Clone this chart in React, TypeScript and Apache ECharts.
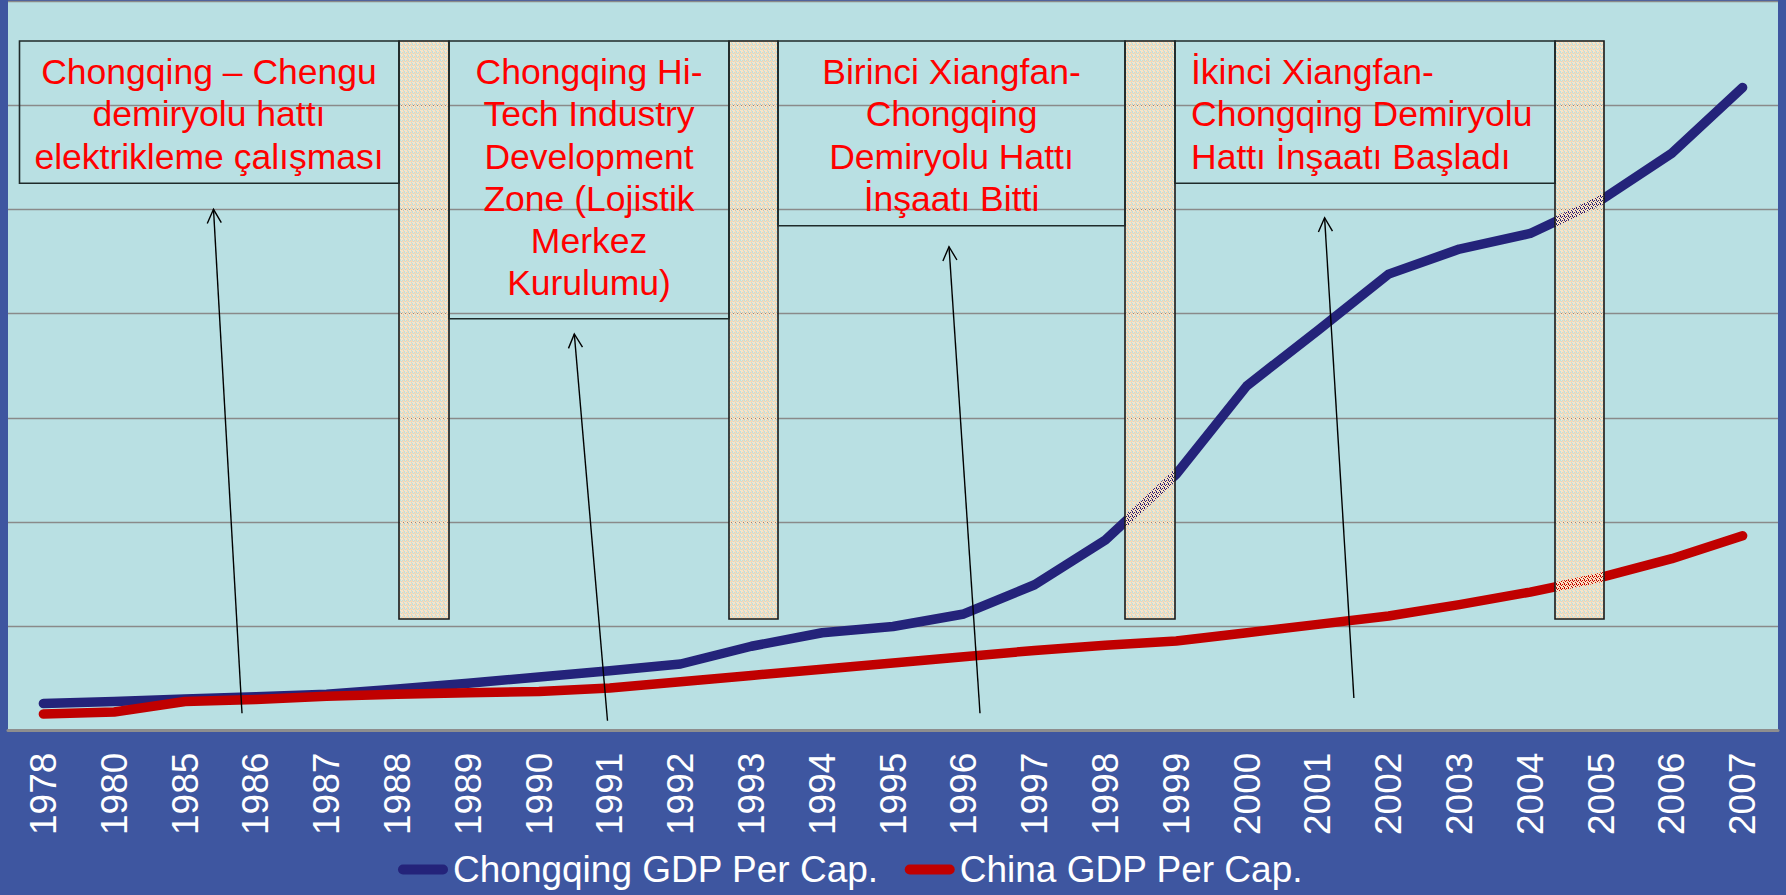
import React, { useEffect, useRef } from 'react';
import * as echarts from 'echarts';

// ---------- data ----------
const years = [
  '1978', '1980', '1985', '1986', '1987', '1988', '1989', '1990', '1991', '1992',
  '1993', '1994', '1995', '1996', '1997', '1998', '1999', '2000', '2001', '2002',
  '2003', '2004', '2005', '2006', '2007',
];
const chongqingGdp = [
  260, 280, 305, 325, 350, 400, 455, 515, 575, 640,
  810, 940, 1000, 1120, 1400, 1830, 2460, 3310, 3840, 4380,
  4620, 4770, 5090, 5540, 6170,
];
const chinaGdp = [
  160, 180, 280, 300, 330, 350, 365, 375, 410, 470,
  530, 590, 650, 710, 770, 820, 860, 940, 1020, 1100,
  1210, 1330, 1470, 1650, 1870,
];
const seriesNames = ['Chongqing GDP Per Cap.', 'China GDP Per Cap.'];
const noteTexts = [
  'Chongqing – Chengu\ndemiryolu hattı\nelektrikleme çalışması',
  'Chongqing Hi-\nTech Industry\nDevelopment\nZone (Lojistik\nMerkez\nKurulumu)',
  'Birinci Xiangfan-\nChongqing\nDemiryolu Hattı\nİnşaatı Bitti',
  'İkinci Xiangfan-\nChongqing Demiryolu\nHattı İnşaatı Başladı',
];

// ---------- layout / style ----------
const FONT = '"Liberation Sans", Arial, "DejaVu Sans", sans-serif';
const NAVY = '#24237A';
const RED = '#C00000';
const BG = '#3E56A0';
const PLOT_BG = '#B9E0E3';

// annotation boxes: [x, y, w, h, align, textX]
const boxLayout: [number, number, number, number, string, number][] = [
  [19.5, 41, 379.5, 142.3, 'center', 209],
  [449, 41, 280, 277.7, 'center', 589],
  [778, 41, 347, 184.7, 'center', 951.5],
  [1175, 41, 380, 142.3, 'left', 1191],
];
// shaded columns: [x, width]
const columnLayout: [number, number][] = [
  [399, 50],
  [729, 49],
  [1125, 50],
  [1555, 49],
];
const COL_TOP = 41;
const COL_BOTTOM = 619;
// arrows: [tailX, tailY, tipX, tipY]
const arrowLayout: [number, number, number, number][] = [
  [242, 713.3, 213.5, 209.3],
  [607.5, 720.7, 574.3, 334],
  [980, 713.3, 949, 246.7],
  [1353.9, 698, 1324.6, 217.7],
];

function makePattern(): any {
  const n = 4;
  const c = document.createElement('canvas');
  c.width = n;
  c.height = n;
  const ctx = c.getContext('2d')!;
  ctx.clearRect(0, 0, n, n);
  // transparent holes so the lines and grid show through the shading
  const holes = ['0,0', '2,0', '1,1', '3,2', '0,3'];
  for (let y = 0; y < n; y++) {
    for (let x = 0; x < n; x++) {
      if (holes.includes(`${x},${y}`)) continue;
      ctx.fillStyle = (x === 3 || y === 1) ? 'rgb(252,216,178)' : 'rgb(250,228,200)';
      ctx.fillRect(x, y, 1, 1);
    }
  }
  return { image: c, repeat: 'repeat', imageWidth: n, imageHeight: n };
}

function arrowGraphics(a: [number, number, number, number]) {
  const [x1, y1, x2, y2] = a;
  const dx = x1 - x2;
  const dy = y1 - y2;
  const len = Math.sqrt(dx * dx + dy * dy);
  const ux = dx / len;
  const uy = dy / len;
  const ang = (27 * Math.PI) / 180;
  const L = 15.5;
  const rot = (s: number) => [
    x2 + L * (ux * Math.cos(s * ang) - uy * Math.sin(s * ang)),
    y2 + L * (ux * Math.sin(s * ang) + uy * Math.cos(s * ang)),
  ];
  return [
    {
      type: 'line',
      z: 20,
      shape: { x1, y1, x2, y2 },
      style: { stroke: '#000', lineWidth: 1.4 },
    },
    {
      type: 'polyline',
      z: 20,
      shape: { points: [rot(1), [x2, y2], rot(-1)] },
      style: { stroke: '#000', lineWidth: 1.4, fill: 'none' },
    },
  ];
}

export default function App() {
  const ref = useRef<HTMLDivElement>(null);

  useEffect(() => {
    document.body.style.margin = '0';
    if (!ref.current) return;
    const chart = echarts.init(ref.current, undefined, { renderer: 'svg' });
    const pattern = makePattern();

    const graphics: any[] = [];
    columnLayout.forEach(([x, w]) => {
      graphics.push({
        type: 'rect',
        z: 10,
        shape: { x, y: COL_TOP, width: w, height: COL_BOTTOM - COL_TOP },
        style: { fill: pattern, stroke: '#1a1a1a', lineWidth: 1.6 },
      });
    });
    boxLayout.forEach(([x, y, w, h, align, tx], i) => {
      graphics.push({
        type: 'rect',
        z: 11,
        shape: { x, y, width: w, height: h },
        style: { fill: 'none', stroke: '#1f2a2a', lineWidth: 1.6 },
      });
      graphics.push({
        type: 'text',
        z: 12,
        x: tx,
        y: 50.8,
        style: {
          text: noteTexts[i],
          fill: '#FF0000',
          fontSize: 35.5,
          fontFamily: FONT,
          lineHeight: 42.3,
          textAlign: align,
          textVerticalAlign: 'top',
        },
      });
    });
    arrowLayout.forEach((a) => graphics.push(...arrowGraphics(a)));

    const option: any = {
      animation: false,
      backgroundColor: BG,
      grid: {
        left: 8,
        right: 8,
        top: 1,
        bottom: 164.3,
        show: true,
        backgroundColor: PLOT_BG,
        borderWidth: 0,
        outerBoundsMode: 'none',
      },
      legend: {
        left: 393,
        top: 846,
        itemWidth: 50,
        itemHeight: 10,
        itemGap: 26,
        icon: 'path://M5 0H45A5 5 0 0 1 45 10H5A5 5 0 0 1 5 0Z',
        textStyle: { color: '#FFFFFF', fontSize: 37, fontFamily: FONT },
        data: [
          { name: seriesNames[0], itemStyle: { color: NAVY, borderWidth: 0 } },
          { name: seriesNames[1], itemStyle: { color: RED, borderWidth: 0 } },
        ],
      },
      xAxis: {
        type: 'category',
        data: years,
        boundaryGap: true,
        axisLine: { show: true, lineStyle: { color: '#8E8E8E', width: 3 } },
        axisTick: { show: false },
        splitLine: { show: false },
        axisLabel: {
          rotate: 90,
          interval: 0,
          margin: 22,
          color: '#FFFFFF',
          fontSize: 37,
          fontFamily: FONT,
        },
      },
      yAxis: {
        type: 'value',
        min: 0,
        max: 7000,
        interval: 1000,
        axisLine: { show: false },
        axisTick: { show: false },
        axisLabel: { show: false },
        splitLine: { show: true, lineStyle: { color: '#8A8A8A', width: 1.3 } },
      },
      series: [
        {
          name: seriesNames[0],
          type: 'line',
          data: chongqingGdp,
          symbol: 'none',
          z: 3,
          itemStyle: { color: NAVY },
          lineStyle: { color: NAVY, width: 9.5, cap: 'round', join: 'round' },
        },
        {
          name: seriesNames[1],
          type: 'line',
          data: chinaGdp,
          symbol: 'none',
          z: 4,
          itemStyle: { color: RED },
          lineStyle: { color: RED, width: 9.5, cap: 'round', join: 'round' },
        },
      ],
      graphic: graphics,
    };
    chart.setOption(option);
    return () => chart.dispose();
  }, []);

  return <div ref={ref} style={{ width: 1786, height: 895 }} />;
}
